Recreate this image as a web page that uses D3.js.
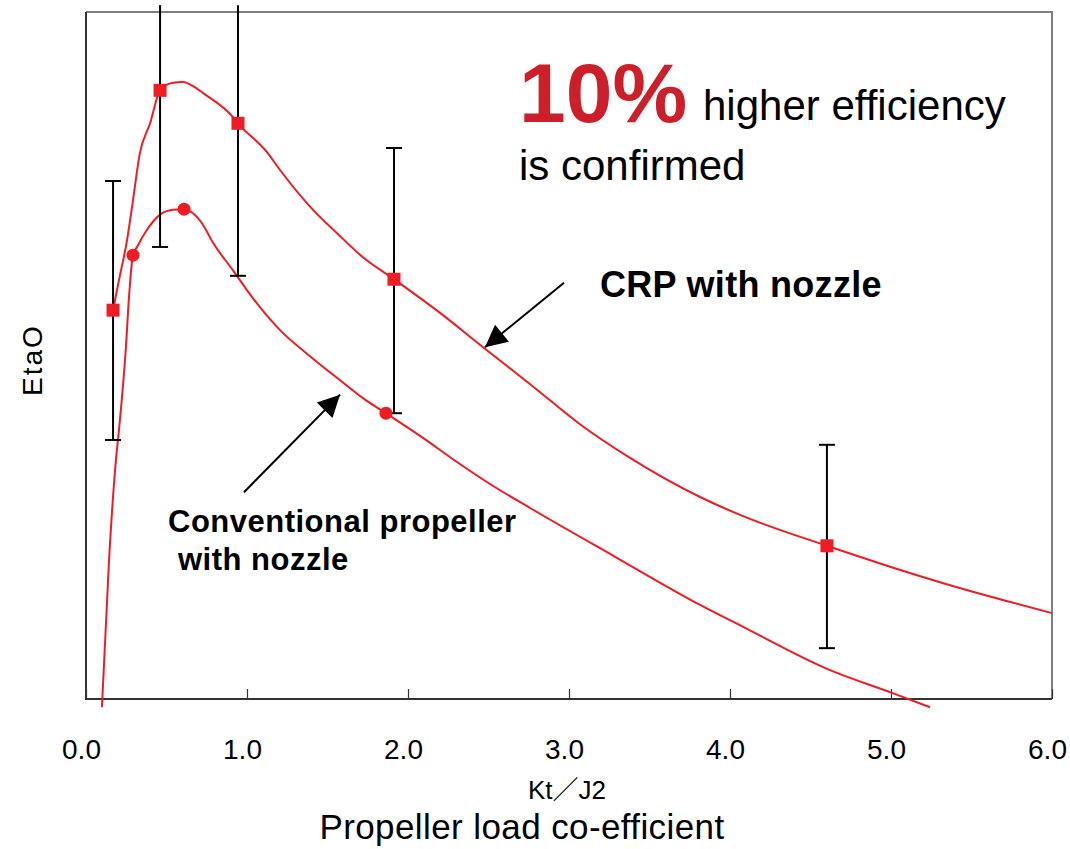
<!DOCTYPE html>
<html>
<head>
<meta charset="utf-8">
<title>EtaO vs propeller load</title>
<script src="https://d3js.org/d3.v7.min.js"></script>
<style>
  body { margin: 0; background: #fff; }
  text { font-family: "Liberation Sans", Arial, "Noto Sans CJK JP", sans-serif; }
</style>
</head>
<body>
<script>
// x = Kt/J2, y = EtaO (relative, axis has no labels; 0 = bottom of plot, 1 = top)
var xTicks = [0, 1, 2, 3, 4, 5, 6];

var crpX = [0.168, 0.205, 0.255, 0.286, 0.335, 0.398, 0.460, 0.540, 0.602, 0.665, 0.727, 0.913, 0.944,
            1.124, 1.205, 1.410, 1.559, 1.720, 1.913, 2.199, 2.466, 2.776, 3.068, 3.379, 3.814, 4.062,
            4.602, 4.975, 5.304, 6.000];
var crpY = [0.566, 0.610, 0.668, 0.716, 0.795, 0.838, 0.886, 0.897, 0.898, 0.892, 0.882, 0.847, 0.838,
            0.796, 0.770, 0.712, 0.678, 0.643, 0.611, 0.562, 0.512, 0.455, 0.400, 0.351, 0.294, 0.268,
            0.223, 0.194, 0.170, 0.125];

var convX = [0.099, 0.143, 0.186, 0.205, 0.248, 0.267, 0.292, 0.317, 0.379, 0.460, 0.540, 0.609, 0.665,
             0.727, 0.789, 0.913, 1.031, 1.205, 1.391, 1.578, 1.720, 1.863, 2.075, 2.304, 2.509, 2.758,
             3.286, 3.814, 4.081, 4.621, 5.006, 5.242];
var convY = [-0.012, 0.202, 0.348, 0.392, 0.512, 0.585, 0.646, 0.658, 0.683, 0.705, 0.712, 0.713, 0.707,
             0.690, 0.664, 0.624, 0.585, 0.537, 0.499, 0.464, 0.438, 0.416, 0.383, 0.345, 0.313, 0.278,
             0.207, 0.137, 0.105, 0.042, 0.009, -0.012];

// measured points
var crpPtX = [0.168, 0.460, 0.944, 1.913, 4.602];
var crpPtY = [0.566, 0.886, 0.838, 0.611, 0.223];
var errLow = [0.377, 0.658, 0.616, 0.416, 0.074];
var errHigh = [0.754, 1.010, 1.010, 0.802, 0.370];

var convPtX = [0.292, 0.609, 1.863];
var convPtY = [0.646, 0.713, 0.416];

var margin = {top: 12, right: 18, bottom: 150, left: 86},
    width = 1070 - margin.left - margin.right,
    height = 849 - margin.top - margin.bottom;

var red = "#ee1c25";

var x = d3.scaleLinear().domain([0, 6]).range([0, width]);
var y = d3.scaleLinear().domain([0, 1]).range([height, 0]);

var svg = d3.select("body").append("svg")
    .attr("width", 1070)
    .attr("height", 849);

var g = svg.append("g")
    .attr("transform", "translate(" + margin.left + "," + margin.top + ")");

// frame
g.append("path")
    .attr("d", "M0,0H" + width + "V" + height)
    .attr("fill", "none")
    .attr("stroke", "#7f7f7f")
    .attr("stroke-width", 2);
g.append("path")
    .attr("d", "M0,0V" + height + "H" + width)
    .attr("fill", "none")
    .attr("stroke", "#333")
    .attr("stroke-width", 2);

// x axis, ticks point inward
var xAxis = g.append("g")
    .attr("transform", "translate(0," + height + ")")
    .call(d3.axisBottom(x).tickValues(xTicks).tickSize(-10).tickFormat(d3.format(".1f")));
xAxis.select(".domain").remove();
xAxis.selectAll(".tick line").attr("stroke", "#333").attr("stroke-width", 1.2);
xAxis.selectAll(".tick text")
    .attr("y", 60)
    .attr("dy", 0)
    .attr("x", -5)
    .attr("font-size", 28)
    .attr("font-family", "Liberation Sans, Arial, sans-serif")
    .attr("fill", "#000");

var line = d3.line()
    .x(function(d) { return x(d[0]); })
    .y(function(d) { return y(d[1]); })
    .curve(d3.curveMonotoneX);

var crp = crpX.map(function(v, i) { return [v, crpY[i]]; });
var conv = convX.map(function(v, i) { return [v, convY[i]]; });

g.append("path").datum(crp)
    .attr("d", line)
    .attr("fill", "none")
    .attr("stroke", red)
    .attr("stroke-width", 2);

g.append("path").datum(conv)
    .attr("d", line)
    .attr("fill", "none")
    .attr("stroke", red)
    .attr("stroke-width", 2);

// error bars
var err = crpPtX.map(function(v, i) { return {x: v, lo: errLow[i], hi: errHigh[i]}; });
var eb = g.selectAll(".err").data(err).enter().append("g").attr("class", "err");
eb.append("line")
    .attr("x1", function(d) { return x(d.x); })
    .attr("x2", function(d) { return x(d.x); })
    .attr("y1", function(d) { return y(d.lo); })
    .attr("y2", function(d) { return y(d.hi); })
    .attr("stroke", "#000").attr("stroke-width", 2);
eb.append("line")
    .attr("x1", function(d) { return x(d.x) - 8; })
    .attr("x2", function(d) { return x(d.x) + 8; })
    .attr("y1", function(d) { return y(d.lo); })
    .attr("y2", function(d) { return y(d.lo); })
    .attr("stroke", "#000").attr("stroke-width", 2);
eb.filter(function(d) { return d.hi < 1; }).append("line")
    .attr("x1", function(d) { return x(d.x) - 8; })
    .attr("x2", function(d) { return x(d.x) + 8; })
    .attr("y1", function(d) { return y(d.hi); })
    .attr("y2", function(d) { return y(d.hi); })
    .attr("stroke", "#000").attr("stroke-width", 2);

// markers
g.selectAll(".sq").data(crpPtX).enter().append("rect")
    .attr("class", "sq")
    .attr("x", function(d) { return x(d) - 6.5; })
    .attr("y", function(d, i) { return y(crpPtY[i]) - 6.5; })
    .attr("width", 13).attr("height", 13)
    .attr("fill", red);

g.selectAll(".dot").data(convPtX).enter().append("circle")
    .attr("class", "dot")
    .attr("cx", function(d) { return x(d); })
    .attr("cy", function(d, i) { return y(convPtY[i]); })
    .attr("r", 6.5)
    .attr("fill", red);

// arrows (annotation anchors in data units)
svg.append("defs").append("marker")
    .attr("id", "head")
    .attr("viewBox", "0 0 10 10")
    .attr("refX", 10).attr("refY", 5)
    .attr("markerUnits", "userSpaceOnUse")
    .attr("markerWidth", 26).attr("markerHeight", 22)
    .attr("orient", "auto")
    .append("path").attr("d", "M0,0L10,5L0,10z").attr("fill", "#000");

var arrows = [
  {x1: 2.969, y1: 0.606, x2: 2.478, y2: 0.512},
  {x1: 0.981, y1: 0.301, x2: 1.578, y2: 0.443}
];
g.selectAll(".arrow").data(arrows).enter().append("line")
    .attr("x1", function(d) { return x(d.x1); })
    .attr("y1", function(d) { return y(d.y1); })
    .attr("x2", function(d) { return x(d.x2); })
    .attr("y2", function(d) { return y(d.y2); })
    .attr("stroke", "#000").attr("stroke-width", 2)
    .attr("marker-end", "url(#head)");

// annotation text
svg.append("text").attr("x", 519).attr("y", 122)
    .attr("font-size", 84).attr("font-weight", "bold").attr("fill", "#cc1f2a")
    .text("10%");
svg.append("text").attr("x", 703).attr("y", 120)
    .attr("font-size", 42).attr("fill", "#000")
    .text("higher efficiency");
svg.append("text").attr("x", 519).attr("y", 180)
    .attr("font-size", 42).attr("fill", "#000")
    .text("is confirmed");
svg.append("text").attr("x", 600).attr("y", 297)
    .attr("font-size", 36).attr("font-weight", "bold").attr("letter-spacing", 0.3)
    .text("CRP with nozzle");
svg.append("text").attr("x", 168).attr("y", 532)
    .attr("font-size", 31).attr("font-weight", "bold").attr("letter-spacing", 0.5)
    .text("Conventional propeller");
svg.append("text").attr("x", 178).attr("y", 570)
    .attr("font-size", 31).attr("font-weight", "bold").attr("letter-spacing", 0.5)
    .text("with nozzle");

// axis titles
svg.append("text")
    .attr("transform", "translate(42,360) rotate(-90)")
    .attr("text-anchor", "middle")
    .attr("font-size", 28).attr("letter-spacing", 2)
    .text("EtaO");
svg.append("text").attr("x", 567).attr("y", 799)
    .attr("text-anchor", "middle").attr("font-size", 26)
    .text("Kt／J2");
svg.append("text").attr("x", 522).attr("y", 839)
    .attr("text-anchor", "middle").attr("font-size", 35)
    .attr("letter-spacing", 0.4)
    .text("Propeller load co-efficient");
</script>
</body>
</html>
